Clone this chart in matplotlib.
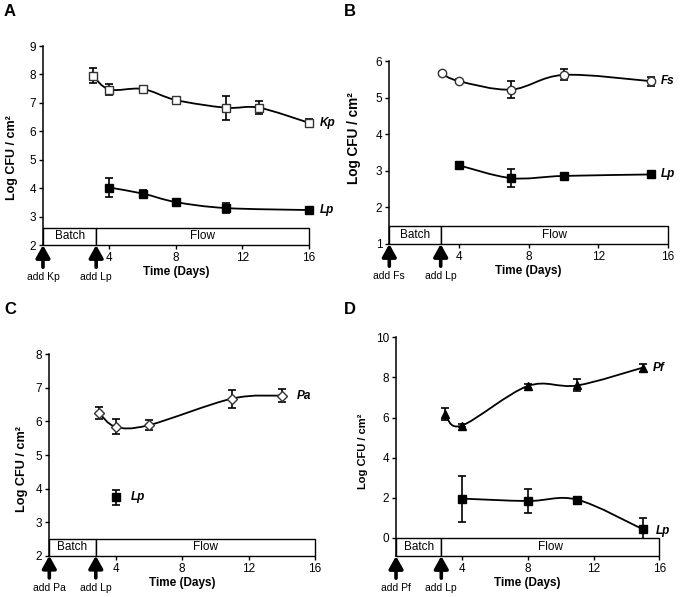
import numpy as np
import matplotlib
matplotlib.use("Agg")
from matplotlib import pyplot as plt
from matplotlib.path import Path
from matplotlib.patches import PathPatch, Rectangle

plt.rcParams["font.family"] = ["Liberation Sans", "DejaVu Sans"]

# --- datos ---
# Panel A
a_kp_x = [3, 4, 6, 8, 11, 13, 16]
a_kp_y = [7.95, 7.47, 7.49, 7.1, 6.83, 6.83, 6.3]
a_kp_e = [0.26, 0.2, 0.05, 0.05, 0.42, 0.22, 0.12]
a_lp_x = [4, 6, 8, 11, 16]
a_lp_y = [4.02, 3.81, 3.51, 3.3, 3.23]
a_lp_e = [0.32, 0.12, 0.05, 0.17, 0.05]

# Panel B
b_fs_x = [3, 4, 7, 10, 15]
b_fs_y = [5.66, 5.45, 5.22, 5.62, 5.45]
b_fs_e = [0.03, 0.05, 0.24, 0.15, 0.12]
b_lp_x = [4, 7, 10, 15]
b_lp_y = [3.15, 2.8, 2.86, 2.9]
b_lp_e = [0.05, 0.24, 0.08, 0.05]

# Panel C
c_pa_x = [3, 4, 6, 11, 14]
c_pa_y = [6.25, 5.84, 5.89, 6.68, 6.77]
c_pa_e = [0.17, 0.22, 0.15, 0.27, 0.2]
c_lp_x = [4]
c_lp_y = [3.74]
c_lp_e = [0.22]

# Panel D
d_pf_x = [3, 4, 8, 11, 15]
d_pf_y = [6.16, 5.6, 7.57, 7.6, 8.49]
d_pf_e = [0.3, 0.08, 0.08, 0.3, 0.2]
d_lp_x = [4, 8, 11, 15]
d_lp_y = [1.96, 1.84, 1.91, 0.43]
d_lp_e = [1.15, 0.6, 0.05, 0.58]

x_ticks = [4, 8, 12, 16]


def smooth_path(x, y):
    # curva Bezier tipo Excel que pasa por los puntos
    p = np.column_stack([x, y]).astype(float)
    n = len(p)
    verts = [p[0]]
    codes = [Path.MOVETO]
    for i in range(n - 1):
        p0 = p[i - 1] if i > 0 else p[i]
        p3 = p[i + 2] if i + 2 < n else p[i + 1]
        c1 = p[i] + (p[i + 1] - p0) / 6
        c2 = p[i + 1] - (p3 - p[i]) / 6
        verts += [c1, c2, p[i + 1]]
        codes += [Path.CURVE4] * 3
    return Path(verts, codes)


def serie(ax, x, y, e, marker, face, edge, ms, label, lab_dx=8, lab_dy=0):
    if len(x) > 1:
        ax.add_patch(PathPatch(smooth_path(x, y), fill=False, lw=1.3,
                               color="black", zorder=2, clip_on=False))
    eb = ax.errorbar(x, y, yerr=e, fmt="none", ecolor="black", elinewidth=1.2,
                     capsize=2.6, capthick=1.2, zorder=3)
    for art in eb.lines[1] + eb.lines[2]:
        art.set_clip_on(False)
    ax.plot(x, y, ls="none", marker=marker, ms=ms, mfc=face, mec=edge,
            mew=1.0, zorder=4, clip_on=False)
    ax.annotate(label, (x[-1], y[-1]), xytext=(lab_dx, lab_dy),
                textcoords="offset points", ha="left", va="center",
                fontsize=8.5, fontweight="bold", fontstyle="italic")


def base(ax, ylim, yticks, box_top, split, first, ylab_size, ylab_pos):
    ax.set_xlim(0, 16)
    ax.set_ylim(*ylim)
    ax.set_xticks(x_ticks)
    ax.set_yticks(yticks)
    ax.tick_params(labelsize=8.5, length=3, width=1, pad=2)
    for s in ["top", "right"]:
        ax.spines[s].set_visible(False)
    ax.spines["left"].set_linewidth(1.1)
    ax.spines["bottom"].set_linewidth(1.1)
    ax.set_ylabel("Log CFU / cm²", fontsize=ylab_size, fontweight="bold")
    ax.yaxis.set_label_coords(*ylab_pos)
    ax.set_xlabel("Time (Days)", fontsize=8.5, fontweight="bold", labelpad=1.5)
    # caja Batch / Flow
    h = box_top - ylim[0]
    ax.add_patch(Rectangle((0, ylim[0]), split, h, fc="white", ec="black",
                           lw=1, clip_on=False, zorder=5))
    ax.add_patch(Rectangle((split, ylim[0]), 16 - split, h, fc="white",
                           ec="black", lw=1, clip_on=False, zorder=5))
    ym = ylim[0] + h / 2
    ax.text(split / 2, ym, "Batch", ha="center", va="center", fontsize=8.5,
            zorder=6)
    ax.text((split + 16) / 2, ym, "Flow", ha="center", va="center",
            fontsize=8.5, zorder=6)
    # flechas de adicion
    tr = ax.get_xaxis_transform()
    for xa, txt in [(0, "add " + first), (split, "add Lp")]:
        ax.annotate("", xy=(xa, 0), xycoords=tr, xytext=(0, -16),
                    textcoords="offset points",
                    arrowprops=dict(arrowstyle="-|>,head_length=0.75,head_width=0.42",
                                    lw=2.6, color="black", shrinkA=0, shrinkB=0))
        ax.annotate(txt, (xa, 0), xycoords=tr, xytext=(0, -23),
                    textcoords="offset points", ha="center", va="center",
                    fontsize=7.5)


fig = plt.figure(figsize=(6.8, 5.97), dpi=100)
ax_a = fig.add_axes([0.0632, 0.5896, 0.391, 0.3333])
ax_b = fig.add_axes([0.5725, 0.5913, 0.4099, 0.3065])
ax_c = fig.add_axes([0.0725, 0.0692, 0.3907, 0.3373])
ax_d = fig.add_axes([0.5824, 0.0687, 0.3872, 0.3663])

base(ax_a, (2, 9), range(2, 10), 2.6, 3.2, "Kp", 9, (-0.094, 0.44))
serie(ax_a, a_kp_x, a_kp_y, a_kp_e, "s", "white", "#333333", 5.7, "Kp")
serie(ax_a, a_lp_x, a_lp_y, a_lp_e, "s", "black", "black", 5.7, "Lp")

base(ax_b, (1, 6), range(1, 7), 1.5, 2.95, "Fs", 9.8, (-0.1, 0.58))
serie(ax_b, b_fs_x, b_fs_y, b_fs_e, "o", "white", "#333333", 6, "Fs", 7)
serie(ax_b, b_lp_x, b_lp_y, b_lp_e, "s", "black", "black", 5.7, "Lp", 7)

base(ax_c, (2, 8), range(2, 9), 2.5, 2.8, "Pa", 9.2, (-0.079, 0.43))
serie(ax_c, c_pa_x, c_pa_y, c_pa_e, "D", "white", "#333333", 5, "Pa", 11)
serie(ax_c, c_lp_x, c_lp_y, c_lp_e, "s", "black", "black", 5.7, "Lp", 11)

base(ax_d, (-0.9, 10), range(0, 11, 2), 0, 2.75, "Pf", 8, (-0.106, 0.48))
serie(ax_d, d_pf_x, d_pf_y, d_pf_e, "^", "black", "black", 6, "Pf", 7)
serie(ax_d, d_lp_x, d_lp_y, d_lp_e, "s", "black", "black", 5.7, "Lp", 9, -1)

for lab, (px, py) in zip("ABCD", [(4, 12), (344, 12), (4, 310), (344, 310)]):
    fig.text(px / 680, 1 - py / 597, lab, fontsize=12, fontweight="bold",
             ha="left", va="center")

fig.savefig("out.png", dpi=100)
